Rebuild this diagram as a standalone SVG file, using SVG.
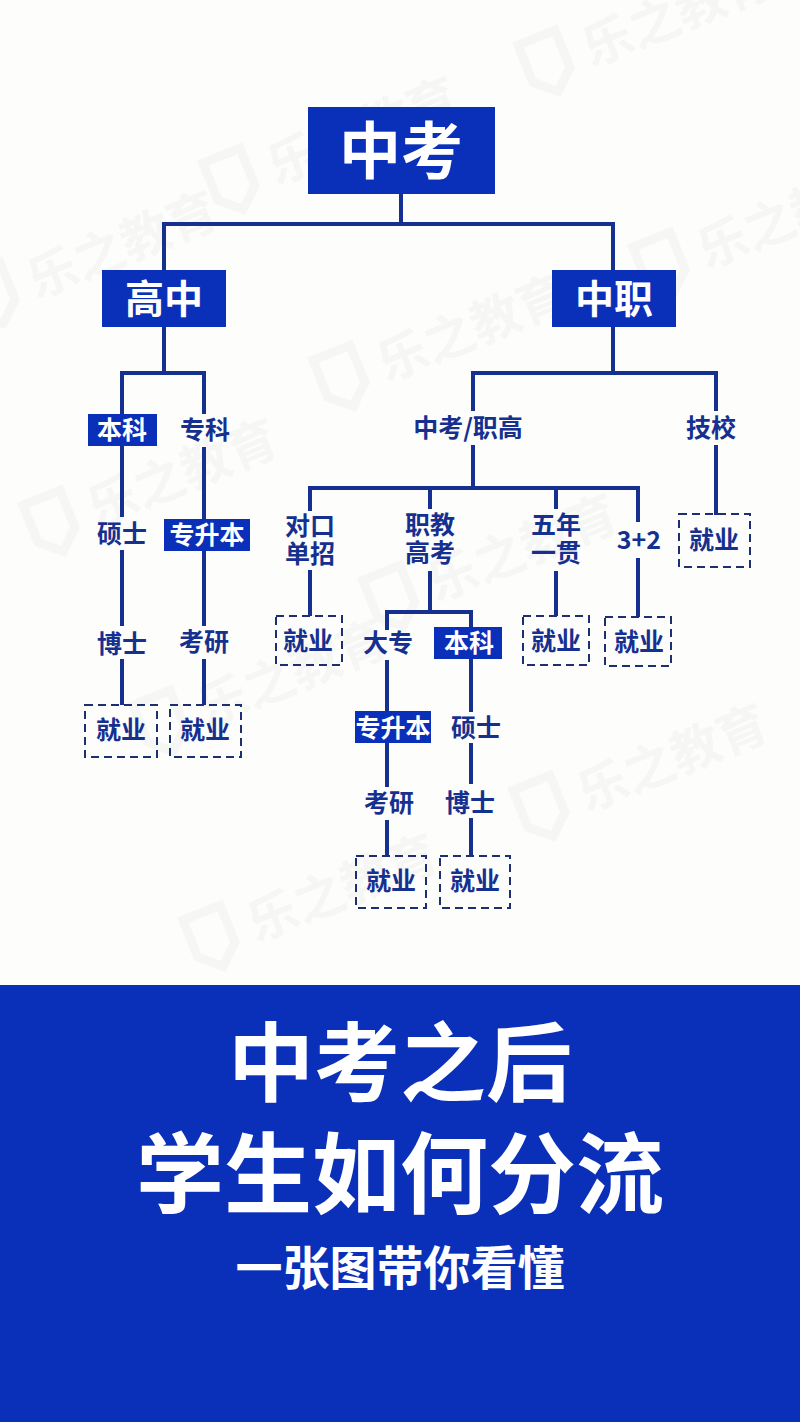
<svg xmlns="http://www.w3.org/2000/svg" width="800" height="1422" viewBox="0 0 800 1422">
<style>
text{font-family:"Noto Sans CJK SC","Noto Sans",sans-serif;text-anchor:middle;dominant-baseline:central}
.l{fill:#16308f;font-size:25px;font-weight:700}
.w{fill:#fff;font-weight:700}
.box{fill:#0a2fb9}
.dash{fill:none;stroke:#1c2f70;stroke-width:2;stroke-dasharray:8 5}
#connectors path{fill:none;stroke:#16308f;stroke-width:4}
.wt{fill:#f6f6f5;font-size:50px;font-weight:700}
.ws{fill:none;stroke:#f6f6f5;stroke-width:9}
</style>
<defs>
<g id="mark"><path class="ws" d="M-105 -26H-65V14L-85 32L-105 14Z"/><text class="wt" x="55" y="0">乐之教育</text></g>
</defs>
<rect width="800" height="1422" fill="#fdfdfc"/>
<g id="watermark">
<use href="#mark" transform="translate(310 148) rotate(-22)"/>
<use href="#mark" transform="translate(625 30) rotate(-22)"/>
<use href="#mark" transform="translate(70 262) rotate(-22)"/>
<use href="#mark" transform="translate(740 232) rotate(-22)"/>
<use href="#mark" transform="translate(420 345) rotate(-22)"/>
<use href="#mark" transform="translate(130 490) rotate(-22)"/>
<use href="#mark" transform="translate(470 565) rotate(-22)"/>
<use href="#mark" transform="translate(240 690) rotate(-22)"/>
<use href="#mark" transform="translate(620 775) rotate(-22)"/>
<use href="#mark" transform="translate(290 905) rotate(-22)"/>
</g>
<g id="connectors">
<path d="M401 194V224M164 270V224H613V270"/>
<path d="M164 327V373M122 414V373H204V414M613 327V373M473 411V373H716V411"/>
<path d="M122 446V517M122 550V626M122 659V705"/>
<path d="M204 447V519M204 551V626M204 659V705"/>
<path d="M473 445V488M310 511V488H638V522M430 488V509M556 488V509"/>
<path d="M716 445V515M310 570V616M556 571V616M638 558V617"/>
<path d="M430 571V612M387 630V612H471V627"/>
<path d="M387 660V711M387 743V787M387 820V856"/>
<path d="M471 659V712M471 743V784M471 818V856"/>
</g>
<g id="n-zhongkao"><rect class="box" x="308" y="107" width="187" height="87"/><text class="w" x="401" y="147" font-size="62">中考</text></g>
<g id="n-gaozhong"><rect class="box" x="102" y="270" width="124" height="57"/><text class="w" x="164" y="296" font-size="39">高中</text></g>
<g id="n-zhongzhi"><rect class="box" x="552" y="270" width="124" height="57"/><text class="w" x="614" y="296" font-size="39">中职</text></g>
<g id="n-benke1"><rect class="box" x="88" y="414" width="69" height="32"/><text class="w" x="122" y="428" font-size="25">本科</text></g>
<g id="n-zhuanke"><text class="l" x="205" y="428">专科</text></g>
<g id="n-shuoshi1"><text class="l" x="122" y="532">硕士</text></g>
<g id="n-zsb1"><rect class="box" x="164" y="519" width="86" height="32"/><text class="w" x="207" y="533" font-size="25">专升本</text></g>
<g id="n-boshi1"><text class="l" x="122" y="642">博士</text></g>
<g id="n-kaoyan1"><text class="l" x="204" y="640">考研</text></g>
<g id="n-job1"><rect class="dash" x="85" y="705" width="72" height="52"/><text class="l" x="121" y="728">就业</text></g>
<g id="n-job2"><rect class="dash" x="170" y="705" width="71" height="52"/><text class="l" x="205" y="728">就业</text></g>
<g id="n-zhigao"><text class="l" x="468" y="426">中考/职高</text></g>
<g id="n-jixiao"><text class="l" x="711" y="426">技校</text></g>
<g id="n-job3"><rect class="dash" x="679" y="514" width="71" height="53"/><text class="l" x="714" y="538">就业</text></g>
<g id="n-duikou"><text class="l" x="310" y="524">对口</text><text class="l" x="310" y="552">单招</text></g>
<g id="n-zhijiao"><text class="l" x="430" y="523">职教</text><text class="l" x="430" y="551">高考</text></g>
<g id="n-wunian"><text class="l" x="556" y="523">五年</text><text class="l" x="556" y="551">一贯</text></g>
<g id="n-32"><text class="l" x="639" y="538">3+2</text></g>
<g id="n-job4"><rect class="dash" x="276" y="616" width="66" height="49"/><text class="l" x="308" y="639">就业</text></g>
<g id="n-job5"><rect class="dash" x="523" y="616" width="66" height="49"/><text class="l" x="556" y="639">就业</text></g>
<g id="n-job6"><rect class="dash" x="605" y="617" width="66" height="49"/><text class="l" x="639" y="640">就业</text></g>
<g id="n-dazhuan"><text class="l" x="388" y="641">大专</text></g>
<g id="n-benke2"><rect class="box" x="434" y="627" width="68" height="32"/><text class="w" x="469" y="641" font-size="25">本科</text></g>
<g id="n-zsb2"><rect class="box" x="355" y="711" width="76" height="32"/><text class="w" x="393" y="726" font-size="25">专升本</text></g>
<g id="n-shuoshi2"><text class="l" x="476" y="726">硕士</text></g>
<g id="n-kaoyan2"><text class="l" x="389" y="801">考研</text></g>
<g id="n-boshi2"><text class="l" x="470" y="801">博士</text></g>
<g id="n-job7"><rect class="dash" x="356" y="856" width="70" height="52"/><text class="l" x="391" y="879">就业</text></g>
<g id="n-job8"><rect class="dash" x="440" y="856" width="70" height="52"/><text class="l" x="475" y="879">就业</text></g>
<g id="banner"><rect class="box" y="985" width="800" height="437"/>
<text class="w" x="400" y="1057" font-size="86">中考之后</text>
<text class="w" x="400" y="1167" font-size="88">学生如何分流</text>
<text class="w" x="400" y="1264" font-size="47">一张图带你看懂</text></g>
</svg>
